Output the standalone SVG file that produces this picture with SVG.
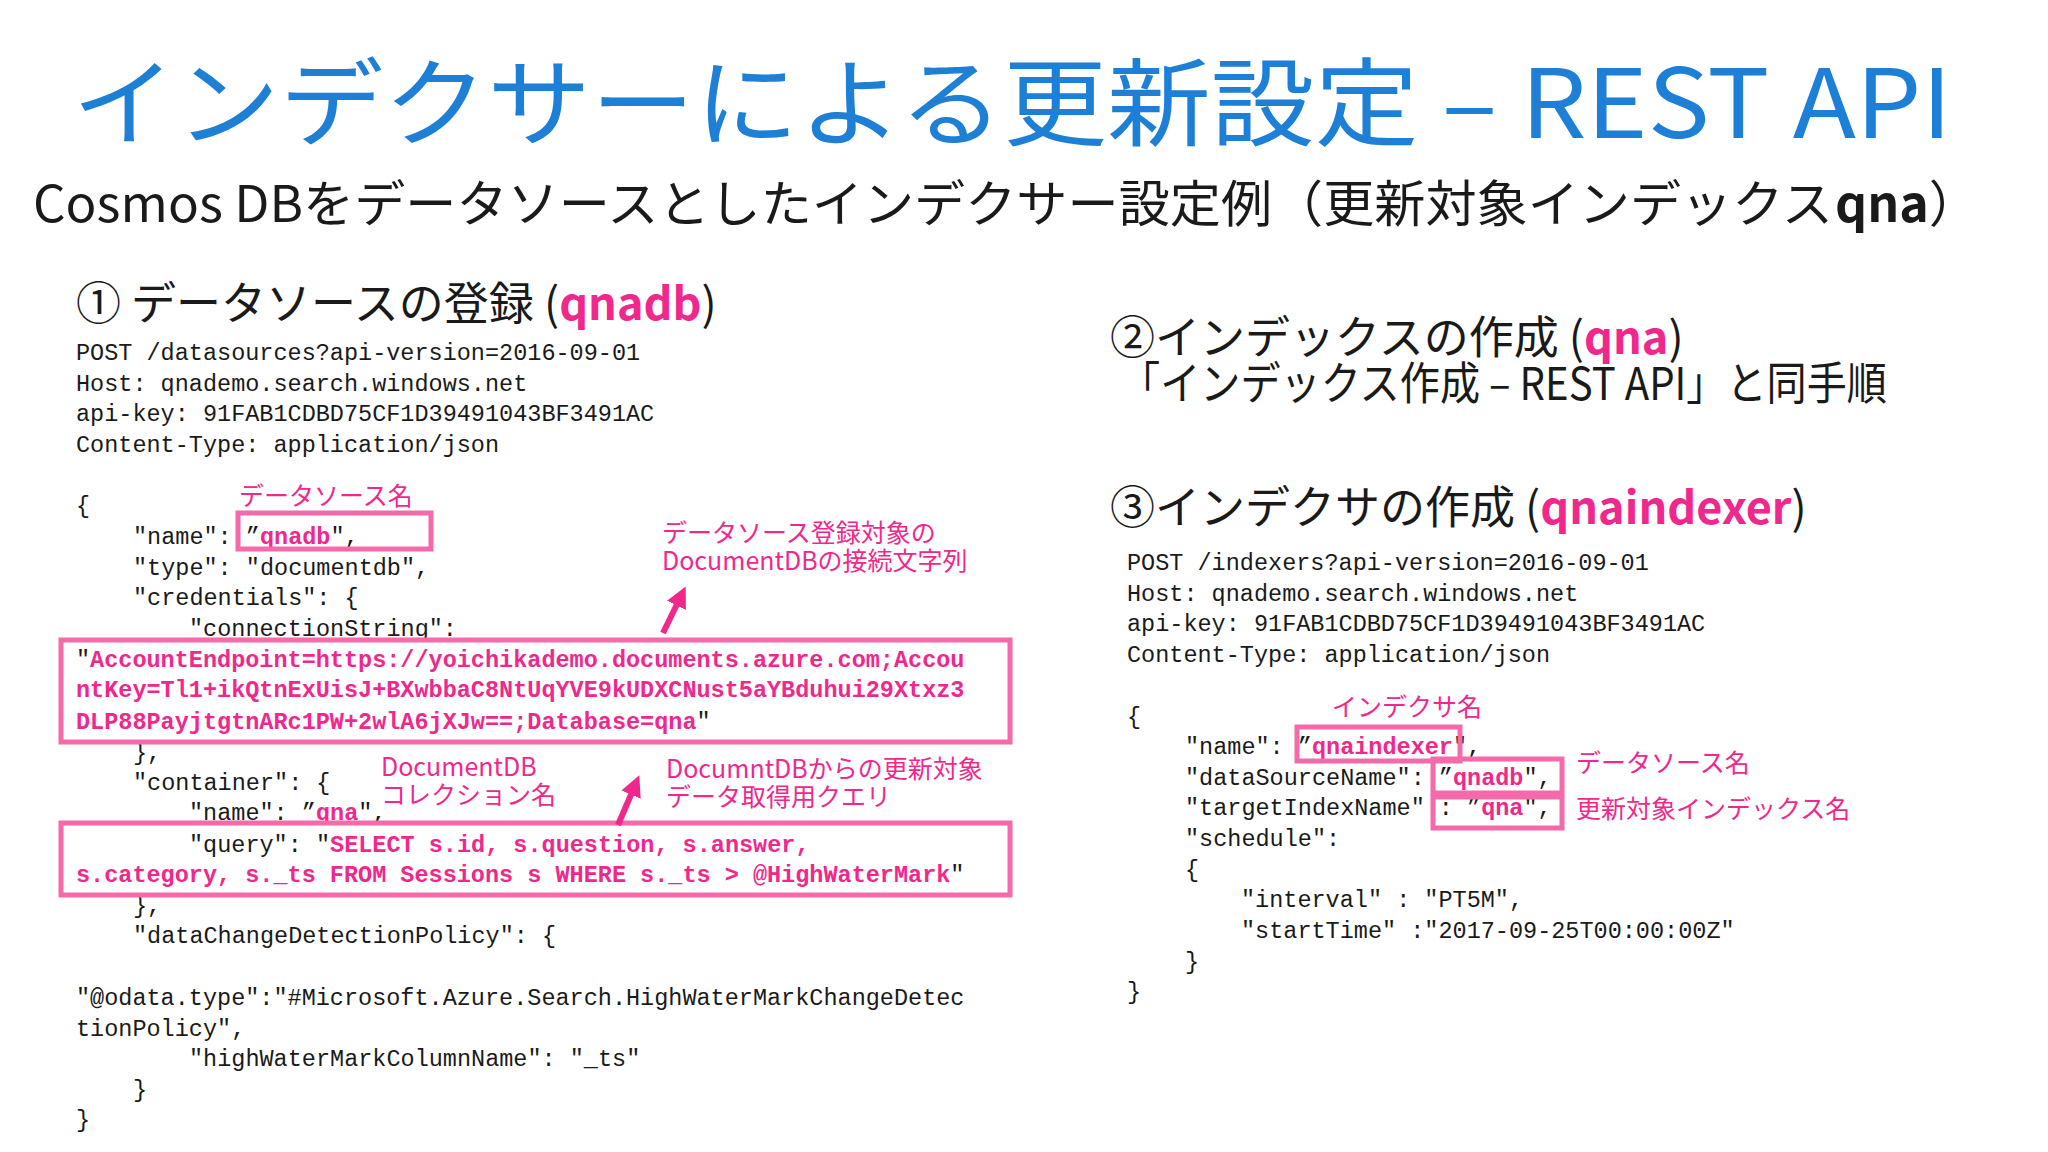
<svg xmlns="http://www.w3.org/2000/svg" width="2048" height="1152" viewBox="0 0 2048 1152">
<style>
.t{font-family:"Noto Sans CJK JP","Noto Sans",sans-serif}
.c{font-family:"Liberation Mono",monospace;font-size:23.5px;fill:#1a1a1a;white-space:pre}
.p{fill:#f0288c}
.pb{fill:#f0288c;font-weight:bold}
.a{font-family:"Noto Sans CJK JP","Noto Sans",sans-serif;font-size:25px;fill:#f0288c}
.box{fill:none;stroke:#f46aaa;stroke-width:5}
.h{font-family:"Noto Sans CJK JP","Noto Sans",sans-serif;font-size:45px;fill:#1a1a1a}
</style>
<defs><marker id="ah" viewBox="0 0 10 10" refX="6" refY="5" markerWidth="3.5" markerHeight="3.5" orient="auto"><path d="M0,0L10,5L0,10z" fill="#f0288c"/></marker></defs>
<rect width="2048" height="1152" fill="#fff"/>
<g id="title"><text class="t" x="72" y="138" font-size="96" fill="#1e7fd6" textLength="1880" lengthAdjust="spacingAndGlyphs">インデクサーによる更新設定 – REST API</text></g>
<g id="subtitle">
<text class="t" x="33" y="222" font-size="50" fill="#1a1a1a" textLength="1800" lengthAdjust="spacingAndGlyphs">Cosmos DBをデータソースとしたインデクサー設定例（更新対象インデックス</text>
<text class="t" x="1835" y="222" font-size="50" fill="#1a1a1a"><tspan font-weight="bold">qna</tspan>）</text>
</g>
<g id="sec1">
<text class="h" x="76" y="320">① データソースの登録 (<tspan class="pb">qnadb</tspan>)</text>
<text class="c" x="76" y="360">POST /datasources?api-version=2016-09-01</text>
<text class="c" x="76" y="391">Host: qnademo.search.windows.net</text>
<text class="c" x="76" y="421">api-key: 91FAB1CDBD75CF1D39491043BF3491AC</text>
<text class="c" x="76" y="452">Content-Type: application/json</text>
<text class="c" x="76" y="513">{</text>
<text class="c" x="133" y="544">"name": ”<tspan class="pb">qnadb</tspan>",</text>
<text class="c" x="133" y="575">"type": "documentdb",</text>
<text class="c" x="133" y="605">"credentials": {</text>
<text class="c" x="189" y="636">"connectionString":</text>
<text class="c" x="76" y="667">"<tspan class="pb">AccountEndpoint=https://yoichikademo.documents.azure.com;Accou</tspan></text>
<text class="c" x="76" y="697"><tspan class="pb">ntKey=Tl1+ikQtnExUisJ+BXwbbaC8NtUqYVE9kUDXCNust5aYBduhui29Xtxz3</tspan></text>
<text class="c" x="76" y="729"><tspan class="pb">DLP88PayjtgtnARc1PW+2wlA6jXJw==;Database=qna</tspan>"</text>
<text class="c" x="133" y="760">},</text>
<text class="c" x="133" y="790">"container": {</text>
<text class="c" x="189" y="820">"name": ”<tspan class="pb">qna</tspan>",</text>
<text class="c" x="189" y="852">"query": "<tspan class="pb">SELECT s.id, s.question, s.answer,</tspan></text>
<text class="c" x="76" y="882"><tspan class="pb">s.category, s._ts FROM Sessions s WHERE s._ts &gt; @HighWaterMark</tspan>"</text>
<text class="c" x="133" y="913">},</text>
<text class="c" x="133" y="943">"dataChangeDetectionPolicy": {</text>
<text class="c" x="76" y="1005">"@odata.type":"#Microsoft.Azure.Search.HighWaterMarkChangeDetec</text>
<text class="c" x="76" y="1036">tionPolicy",</text>
<text class="c" x="189" y="1066">"highWaterMarkColumnName": "_ts"</text>
<text class="c" x="133" y="1097">}</text>
<text class="c" x="76" y="1127">}</text>
</g>
<g id="sec2">
<text class="h" x="1110" y="354">②インデックスの作成 (<tspan class="pb">qna</tspan>)</text>
<text class="h" x="1120" y="400" font-size="41" textLength="767" lengthAdjust="spacingAndGlyphs">「インデックス作成 – REST API」と同手順</text>
</g>
<g id="sec3">
<text class="h" x="1110" y="524">③インデクサの作成 (<tspan class="pb">qnaindexer</tspan>)</text>
<text class="c" x="1127" y="570">POST /indexers?api-version=2016-09-01</text>
<text class="c" x="1127" y="601">Host: qnademo.search.windows.net</text>
<text class="c" x="1127" y="631">api-key: 91FAB1CDBD75CF1D39491043BF3491AC</text>
<text class="c" x="1127" y="662">Content-Type: application/json</text>
<text class="c" x="1127" y="724">{</text>
<text class="c" x="1185" y="754">"name": ”<tspan class="pb">qnaindexer</tspan>",</text>
<text class="c" x="1185" y="785">"dataSourceName": ”<tspan class="pb">qnadb</tspan>",</text>
<text class="c" x="1185" y="815">"targetIndexName" : ”<tspan class="pb">qna</tspan>",</text>
<text class="c" x="1185" y="846">"schedule":</text>
<text class="c" x="1185" y="877">{</text>
<text class="c" x="1241" y="907">"interval" : "PT5M",</text>
<text class="c" x="1241" y="938">"startTime" :"2017-09-25T00:00:00Z"</text>
<text class="c" x="1185" y="969">}</text>
<text class="c" x="1127" y="999">}</text>
</g>
<g id="boxes">
<rect class="box" x="238" y="513" width="193" height="36"/>
<rect class="box" x="61" y="640" width="949" height="102"/>
<rect class="box" x="61" y="823" width="949" height="72"/>
<rect class="box" x="1297" y="727" width="163" height="34"/>
<rect class="box" x="1433" y="759" width="129" height="34"/>
<rect class="box" x="1433" y="797" width="129" height="31"/>
</g>
<g id="annotations">
<text class="a" x="239" y="505">データソース名</text>
<text class="a" x="662" y="542">データソース登録対象の</text>
<text class="a" x="662" y="570">DocumentDBの接続文字列</text>
<text class="a" x="381" y="776">DocumentDB</text>
<text class="a" x="381" y="804">コレクション名</text>
<text class="a" x="666" y="778">DocumntDBからの更新対象</text>
<text class="a" x="666" y="806">データ取得用クエリ</text>
<text class="a" x="1332" y="716">インデクサ名</text>
<text class="a" x="1576" y="772">データソース名</text>
<text class="a" x="1576" y="818">更新対象インデックス名</text>
</g>
<g id="connectors" stroke="#f0288c" stroke-width="6" fill="none">
<line x1="663" y1="633" x2="682" y2="594" marker-end="url(#ah)"/>
<line x1="618" y1="825" x2="636" y2="783" marker-end="url(#ah)"/>
</g>
</svg>
